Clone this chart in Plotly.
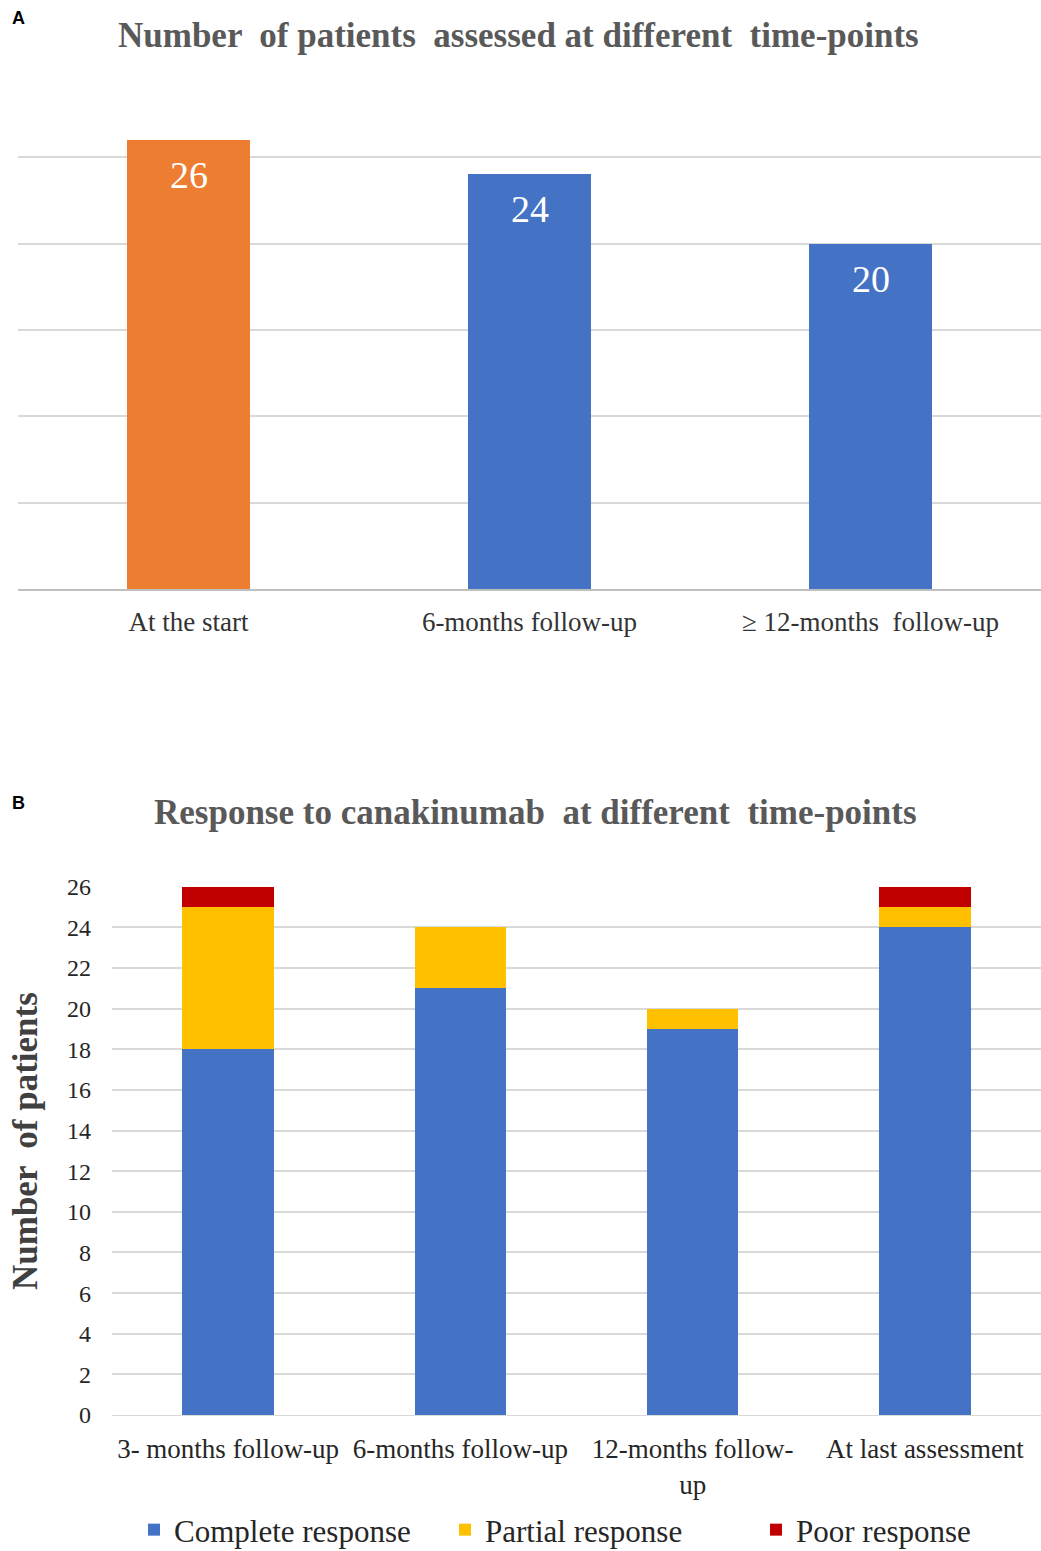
import plotly.graph_objects as go

# Panel A data
a_categories = ["At the start", "6-months follow-up", "\u2265 12-months  follow-up"]
a_values = [26, 24, 20]
a_colors = ["#ED7D31", "#4472C4", "#4472C4"]

# Panel B data
b_categories = ["3- months follow-up", "6-months follow-up", "12-months follow-<br>up", "At last assessment"]
b_complete = [18, 21, 19, 24]
b_partial = [7, 3, 1, 1]
b_poor = [1, 0, 0, 1]
b_yticks = list(range(0, 27, 2))

W, H = 1041, 1551
SERIF = "Liberation Serif"

def py(pix):
    return 1 - pix / H

def px(pix):
    return pix / W

fig = go.Figure()

fig.add_trace(go.Bar(
    x=a_categories, y=a_values, width=0.36,
    marker=dict(color=a_colors, line=dict(width=0)),
    xaxis="x", yaxis="y", showlegend=False, hoverinfo="x+y",
))
for c, v in zip(a_categories, a_values):
    fig.add_annotation(x=c, y=v, xref="x", yref="y", text=str(v), showarrow=False,
                       yanchor="top", yshift=-12,
                       font=dict(family=SERIF, size=38, color="white"))

bw = 0.395
fig.add_trace(go.Bar(name="Complete response", x=b_categories, y=b_complete, width=bw,
                     marker=dict(color="#4472C4", line=dict(width=0)), xaxis="x2", yaxis="y2"))
fig.add_trace(go.Bar(name="Partial response", x=b_categories, y=b_partial, width=bw,
                     marker=dict(color="#FFC000", line=dict(width=0)), xaxis="x2", yaxis="y2"))
fig.add_trace(go.Bar(name="Poor response", x=b_categories, y=b_poor, width=bw,
                     marker=dict(color="#C00000", line=dict(width=0)), xaxis="x2", yaxis="y2"))

grid = "#D9D9D9"
fig.update_layout(
    width=W, height=H,
    margin=dict(l=0, r=0, t=0, b=0, autoexpand=False),
    paper_bgcolor="white", plot_bgcolor="white",
    barmode="stack",
    font=dict(family=SERIF, color="#404040"),
    xaxis=dict(domain=[px(18), 1], anchor="y", showgrid=False, ticks="",
               showline=True, linecolor="#BFBFBF", linewidth=1.5,
               tickfont=dict(family=SERIF, size=27, color="#333333"),
               ticklabelstandoff=8, automargin=False),
    yaxis=dict(domain=[py(589), py(70)], anchor="x", range=[0, 30.05], dtick=5,
               showticklabels=False, gridcolor=grid, gridwidth=1.5, zeroline=False,
               automargin=False),
    xaxis2=dict(domain=[px(112), 1], anchor="y2", showgrid=False, ticks="",
                showline=True, linecolor="#D9D9D9", linewidth=1,
                tickfont=dict(family=SERIF, size=27, color="#262626"),
                ticklabelstandoff=10, automargin=False),
    yaxis2=dict(domain=[py(1415), py(886)], anchor="x2", range=[0, 26.04],
                tickvals=b_yticks, gridcolor=grid, gridwidth=1.5, zeroline=False,
                tickfont=dict(family=SERIF, size=24, color="#262626"),
                ticklabelstandoff=20, automargin=False),
    legend=dict(orientation="h", x=px(134), xanchor="left", y=py(1530), yanchor="middle",
                font=dict(family=SERIF, size=31, color="#262626"),
                traceorder="normal", entrywidth=266, entrywidthmode="pixels"),
)

fig.add_annotation(text="<b>Number  of patients  assessed at different  time-points</b>",
                   x=px(518), y=py(35), xref="paper", yref="paper", showarrow=False,
                   xanchor="center", yanchor="middle",
                   font=dict(family=SERIF, size=35, color="#595959"))
fig.add_annotation(text="<b>Response to canakinumab  at different  time-points</b>",
                   x=px(535), y=py(812), xref="paper", yref="paper", showarrow=False,
                   xanchor="center", yanchor="middle",
                   font=dict(family=SERIF, size=35, color="#595959"))
fig.add_annotation(text="<b>Number  of patients</b>", textangle=-90,
                   x=px(25), y=py(1141), xref="paper", yref="paper", showarrow=False,
                   xanchor="center", yanchor="middle",
                   font=dict(family=SERIF, size=35, color="#404040"))
fig.add_annotation(text="<b>A</b>", x=px(10), y=py(18), xref="paper", yref="paper",
                   xanchor="left", yanchor="middle", showarrow=False,
                   font=dict(family="Liberation Sans", size=18, color="black"))
fig.add_annotation(text="<b>B</b>", x=px(10), y=py(803), xref="paper", yref="paper",
                   xanchor="left", yanchor="middle", showarrow=False,
                   font=dict(family="Liberation Sans", size=18, color="black"))

fig.write_html("out.html")
